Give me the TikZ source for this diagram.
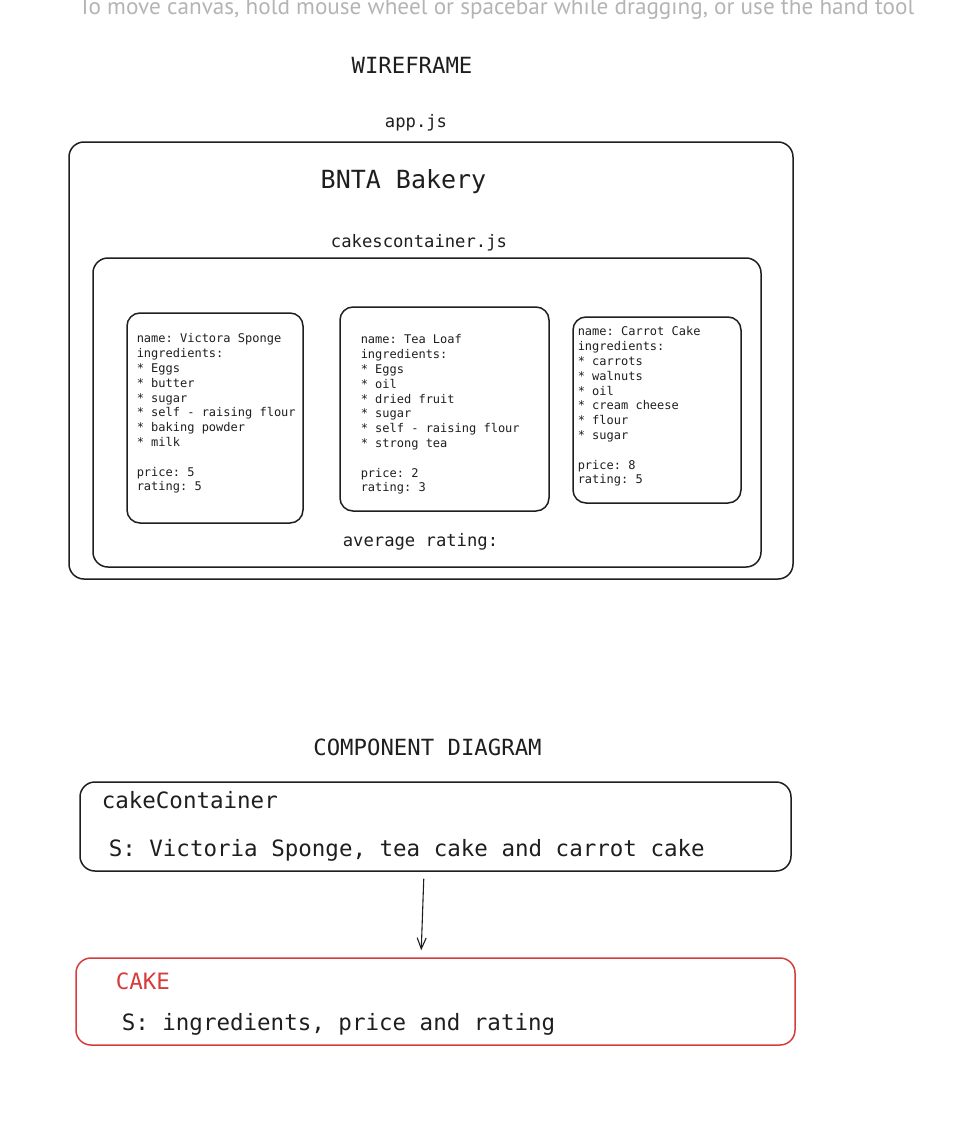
\documentclass[tikz,border=0pt]{standalone}
\usepackage{fontspec}
\setmonofont{DejaVu Sans Mono}
\newfontfamily\hintfont{PT Sans}
\usetikzlibrary{arrows.meta}
\definecolor{ink}{HTML}{1E1E1E}
\definecolor{cakered}{HTML}{D63C3C}
\definecolor{hintgrey}{HTML}{B4B4B4}
\begin{document}
\begin{tikzpicture}[x=1pt, y=-1pt, line width=1.5pt,
  box/.style={draw=ink, rounded corners=15pt, inner sep=0pt},
  card/.style={draw=ink, rounded corners=13pt, inner sep=0pt},
  heading/.style={font=\ttfamily\fontsize{22.3}{26}\selectfont, text=ink, anchor=base, inner sep=0pt},
  file name/.style={font=\ttfamily\fontsize{17.2}{20}\selectfont, text=ink, anchor=base, inner sep=0pt},
  cake text/.style={font=\ttfamily\fontsize{12}{14.8}\selectfont, text=ink, align=left, anchor=north west, inner sep=0pt},
  big text/.style={font=\ttfamily\fontsize{22.5}{26}\selectfont, text=ink, anchor=base west, inner sep=0pt}]
\useasboundingbox (0,0) rectangle (974,1132);
\node[font=\hintfont\fontsize{23.2}{27}\selectfont, text=hintgrey, anchor=base, inner sep=0pt] (hint) at (496.5,15) {To move canvas, hold mouse wheel or spacebar while dragging, or use the hand tool};
\node[heading] (wireframe) at (412,74) {WIREFRAME};
\node[file name] (appjs) at (416,127) {app.js};
\node[box, minimum width=724pt, minimum height=437pt] (app) at (431,360.5) {};
\node[heading, font=\ttfamily\fontsize{25}{30}\selectfont] (bakery) at (403.5,188) {BNTA Bakery};
\node[file name] (containerjs) at (419,247) {cakescontainer.js};
\node[box, minimum width=668pt, minimum height=309pt] (container) at (427,412.5) {};
\node[card, minimum width=176pt, minimum height=210pt] (card1) at (215,418) {};
\node[card, minimum width=209pt, minimum height=204pt] (card2) at (444.5,409) {};
\node[card, minimum width=168pt, minimum height=186pt] (card3) at (657,410) {};
\begin{scope}[every node/.style={cake text}]
\node (sponge) at (136,333) {name: Victora Sponge\\ingredients:\\* Eggs\\* butter\\* sugar\\* self - raising flour\\* baking powder\\* milk\\[14.8pt]price: 5\\rating: 5};
\node (tealoaf) at (360,334) {name: Tea Loaf\\ingredients:\\* Eggs\\* oil\\* dried fruit\\* sugar\\* self - raising flour\\* strong tea\\[14.8pt]price: 2\\rating: 3};
\node (carrot) at (577,326) {name: Carrot Cake\\ingredients:\\* carrots\\* walnuts\\* oil\\* cream cheese\\* flour\\* sugar\\[14.8pt]price: 8\\rating: 5};
\end{scope}
\node[file name] (average) at (420.5,546) {average rating:};
\node[heading] (component) at (427.5,755) {COMPONENT DIAGRAM};
\node[box, minimum width=711pt, minimum height=89pt] (comp) at (435.5,826.5) {};
\node[big text] (compname) at (101,808) {cakeContainer};
\node[big text] (compstate) at (108,856) {S: Victoria Sponge, tea cake and carrot cake};
\node[box, draw=cakered, minimum width=719pt, minimum height=87pt] (cake) at (435.5,1001.5) {};
\node[big text, text=cakered] (cakename) at (115,989) {CAKE};
\node[big text] (cakestate) at (121,1030) {S: ingredients, price and rating};
\draw [-{Straight Barb[length=11pt,width=9pt]}, draw=ink, line width=1.1pt, shorten <=7pt, shorten >=7pt] ([xshift=-11.5pt]comp.south) -- ([xshift=-14.5pt]cake.north);
\end{tikzpicture}
\end{document}
